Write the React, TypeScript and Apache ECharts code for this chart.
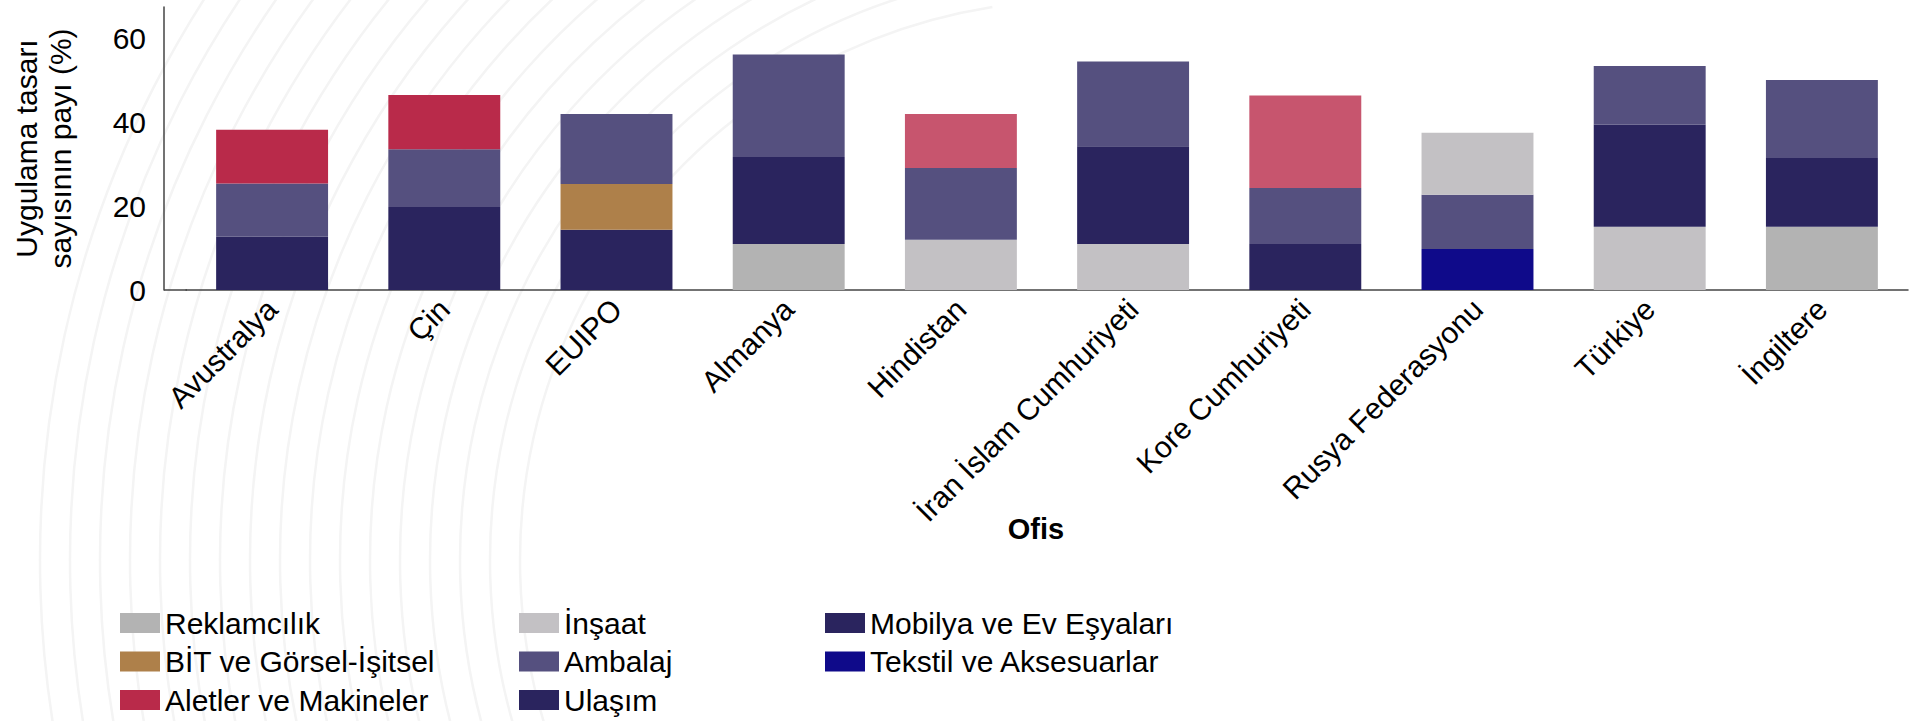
import React, { useEffect, useRef } from "react";
import * as echarts from "echarts";

const categories = [
  "Avustralya",
  "Çin",
  "EUIPO",
  "Almanya",
  "Hindistan",
  "İran İslam Cumhuriyeti",
  "Kore Cumhuriyeti",
  "Rusya Federasyonu",
  "Türkiye",
  "İngiltere",
];

const reklamcilik = [null, null, null, 11.0, null, null, null, null, null, 15.1];
const insaat = [null, null, null, null, 12.0, 11.0, null, null, 15.1, null];
const tekstil = [null, null, null, null, null, null, null, 9.8, null, null];
const mobilya = [12.7, 19.8, 14.4, null, null, 23.3, 11.0, null, 24.3, 16.4];
const ulasim = [null, null, null, 20.7, null, null, null, null, null, null];
const bit = [null, null, 10.9, null, null, null, null, null, null, null];
const ambalaj = [12.7, 13.8, 16.7, 24.5, 17.1, 20.2, 13.3, 12.9, 14.0, 18.6];
const aletler = [12.8, 12.9, null, null, 12.9, null, 22.1, null, null, null];
const insaatUst = [null, null, null, null, null, null, null, 14.8, null, null];

const yTicks = [0, 20, 40, 60];

const legendCol1 = ["Reklamcılık", "BİT ve Görsel-İşitsel", "Aletler ve Makineler"];
const legendCol2 = ["İnşaat", "Ambalaj", "Ulaşım"];
const legendCol3 = ["Mobilya ve Ev Eşyaları", "Tekstil ve Aksesuarlar"];

const FONT = "'Liberation Sans', Arial, Helvetica, sans-serif";
const fadedOffices = new Set(["Hindistan", "Kore Cumhuriyeti"]);

// decorative background arcs (faint texture)
const bgArcRadii = [560, 590, 620, 650, 680, 710, 740, 770, 800, 830, 860, 890, 920, 950, 980, 1010, 1040];

export default function App() {
  const ref = useRef<HTMLDivElement>(null);

  useEffect(() => {
    if (!ref.current) return;
    const chart = echarts.init(ref.current, undefined, { renderer: "svg" });

    const mk = (name: string, data: (number | null)[], color: string, fade = false) => ({
      name,
      type: "bar",
      stack: "total",
      barCategoryGap: "35%",
      itemStyle: { color },
      emphasis: { disabled: true },
      data: data.map((v, i) =>
        v === null
          ? null
          : fade && fadedOffices.has(categories[i])
          ? { value: v, itemStyle: { opacity: 0.8 } }
          : v
      ),
    });

    const legendBase = {
      orient: "vertical",
      icon: "rect",
      itemWidth: 40,
      itemHeight: 20,
      itemGap: 8.5,
      itemTextGap: 18,
      padding: 0,
      selectedMode: false,
      textStyle: { fontSize: 30, lineHeight: 30, color: "#000", fontFamily: FONT },
    };

    const bgArcs = bgArcRadii.map((r) => ({
      type: "arc",
      silent: true,
      z: -10,
      shape: { cx: 1080, cy: 560, r, startAngle: Math.PI * 0.85, endAngle: Math.PI * 1.45 },
      style: { stroke: "#f4f4f4", lineWidth: 2.5, fill: "none" },
    }));

    const option = {
      animation: false,
      backgroundColor: "#ffffff",
      textStyle: { fontFamily: FONT },
      grid: { left: 186, right: 4, top: 7, bottom: 431, containLabel: false },
      legend: [
        { ...legendBase, left: 120, top: 608, data: legendCol1 },
        { ...legendBase, left: 519, top: 608, data: legendCol2 },
        { ...legendBase, left: 825, top: 608, data: legendCol3 },
      ],
      xAxis: {
        type: "category",
        data: categories,
        name: "Ofis",
        nameLocation: "middle",
        nameGap: 224,
        nameMoveOverlap: false,
        nameTextStyle: {
          fontSize: 29,
          fontWeight: "bold",
          color: "#000",
          lineHeight: 29,
          padding: [0, 22, 0, 0],
        },
        axisLine: { show: true, lineStyle: { color: "#444", width: 1.5 } },
        axisTick: { show: false },
        axisLabel: {
          rotate: 45,
          interval: 0,
          fontSize: 30,
          color: "#000",
          margin: 14,
        },
      },
      yAxis: {
        type: "value",
        min: yTicks[0],
        max: 67.5,
        interval: 20,
        offset: 22,
        name: "Uygulama tasarı\nsayısının payı (%)",
        nameLocation: "middle",
        nameRotate: 90,
        nameGap: 87,
        nameMoveOverlap: false,
        nameTextStyle: { fontSize: 30, lineHeight: 34, color: "#000" },
        axisLine: { show: true, lineStyle: { color: "#444", width: 1.5 } },
        axisTick: { show: false },
        splitLine: { show: false },
        axisLabel: { fontSize: 30, color: "#000", margin: 18, showMaxLabel: false },
      },
      graphic: [
        ...bgArcs,
        {
          type: "line",
          silent: true,
          shape: { x1: 164, y1: 290, x2: 187, y2: 290 },
          style: { stroke: "#444", lineWidth: 1.5 },
        },
      ],
      series: [
        mk("Reklamcılık", reklamcilik, "#b3b3b3"),
        mk("İnşaat", insaat, "#c3c1c4"),
        mk("Tekstil ve Aksesuarlar", tekstil, "#0f0a8a"),
        mk("Mobilya ve Ev Eşyaları", mobilya, "#2a245e"),
        mk("Ulaşım", ulasim, "#2a245e"),
        mk("BİT ve Görsel-İşitsel", bit, "#ae804a"),
        mk("Ambalaj", ambalaj, "#55507f"),
        mk("Aletler ve Makineler", aletler, "#b92a4a", true),
        mk("İnşaat", insaatUst, "#c3c1c4"),
      ],
    };

    chart.setOption(option as any);
    return () => chart.dispose();
  }, []);

  return (
    <div
      ref={ref}
      style={{ position: "fixed", left: 0, top: 0, width: 1912, height: 721 }}
    />
  );
}
